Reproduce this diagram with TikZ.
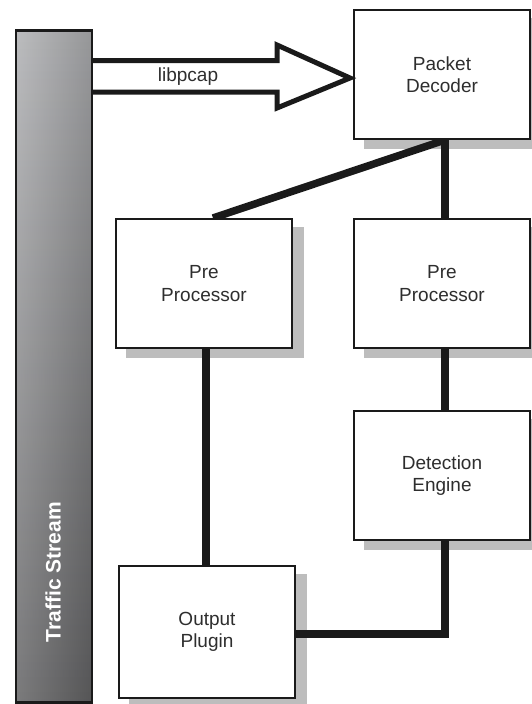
\documentclass[tikz,border=0pt]{standalone}
\usepackage{fontspec}
\setmainfont{Liberation Sans}
\usetikzlibrary{calc}
\pgfdeclarelayer{shadowlayer}
\pgfdeclarelayer{connlayer}
\pgfsetlayers{shadowlayer,connlayer,main}
\definecolor{boxline}{HTML}{1A1A1A}
\definecolor{shadowgray}{HTML}{BDBDBD}
\definecolor{txt}{HTML}{2E2E2E}
\definecolor{bartop}{HTML}{D0D1D4}
\definecolor{barbot}{HTML}{767678}
\begin{document}
\begin{tikzpicture}[x=1pt,y=-1pt,
  box/.style={draw=boxline, line width=2pt, fill=white, minimum width=176pt,
    minimum height=129pt, inner sep=0pt, anchor=north west, text=txt,
    font=\fontsize{19}{22.5}\selectfont, align=center},
  conn/.style={line width=7.5pt, draw=boxline, line join=miter},
  hollowarrow/.style={line width=5pt, draw=boxline, line join=miter, miter limit=20},
  barstyle/.style={draw=boxline, line width=2.5pt, top color=bartop, bottom color=barbot,
    minimum width=76pt, minimum height=672pt, anchor=north west, inner sep=0pt,
    path picture={\fill[left color=white, right color=black, opacity=0.15]
      (path picture bounding box.south west) rectangle (path picture bounding box.north east);}},
  lbl/.style={text=txt, font=\fontsize{19}{22.5}\selectfont, inner sep=0pt}
]
\useasboundingbox (0,0) rectangle (531,704);

% traffic stream bar
\node[barstyle] (ts) at (14.5,29) {};
\node[rotate=90, text=white, font=\bfseries\fontsize{21}{21}\selectfont, inner sep=0pt] (tslabel) at (53,572) {Traffic Stream};

% boxes
\node[box] (pd) at (353,9) {Packet\\Decoder};
\node[box] (ppl) at (115,218) {Pre\\Processor};
\node[box] (ppr) at (353,218) {Pre\\Processor};
\node[box] (de) at (353,410) {Detection\\Engine};
\node[box, minimum height=132pt] (op) at (118,565) {Output\\Plugin};

% shadows
\begin{pgfonlayer}{shadowlayer}
\foreach \b in {pd,ppl,ppr,de,op}{
  \fill[shadowgray] ($(\b.north west)+(11,9)$) rectangle ($(\b.south east)+(11,9)$);
}
\end{pgfonlayer}

% hollow arrow (libpcap)
\coordinate (tip) at ([xshift=-3pt,yshift=-3.5pt]pd.west);
\draw[hollowarrow] ([yshift=-31.5pt]ts.north east) -- (277,60.5) -- (277,45) -- (tip)
  -- (277,108) -- (277,92) -- ([yshift=-63pt]ts.north east);
\node[lbl] (libpcap) at (188,77) {libpcap};

% connectors
\begin{pgfonlayer}{connlayer}
\draw[conn] ([xshift=3pt]pd.south) -- ([xshift=3pt]ppr.north);
\draw[conn] ([xshift=3pt]pd.south) -- ([xshift=9pt]ppl.north);
\draw[conn] ([xshift=2pt]ppl.south) -- ([xshift=2pt]ppl.south |- op.north);
\draw[conn] ([xshift=3pt]ppr.south) -- ([xshift=3pt]de.north);
\draw[conn] ([xshift=3pt]de.south) |- ([yshift=-2pt]op.east);
\end{pgfonlayer}
\end{tikzpicture}
\end{document}
